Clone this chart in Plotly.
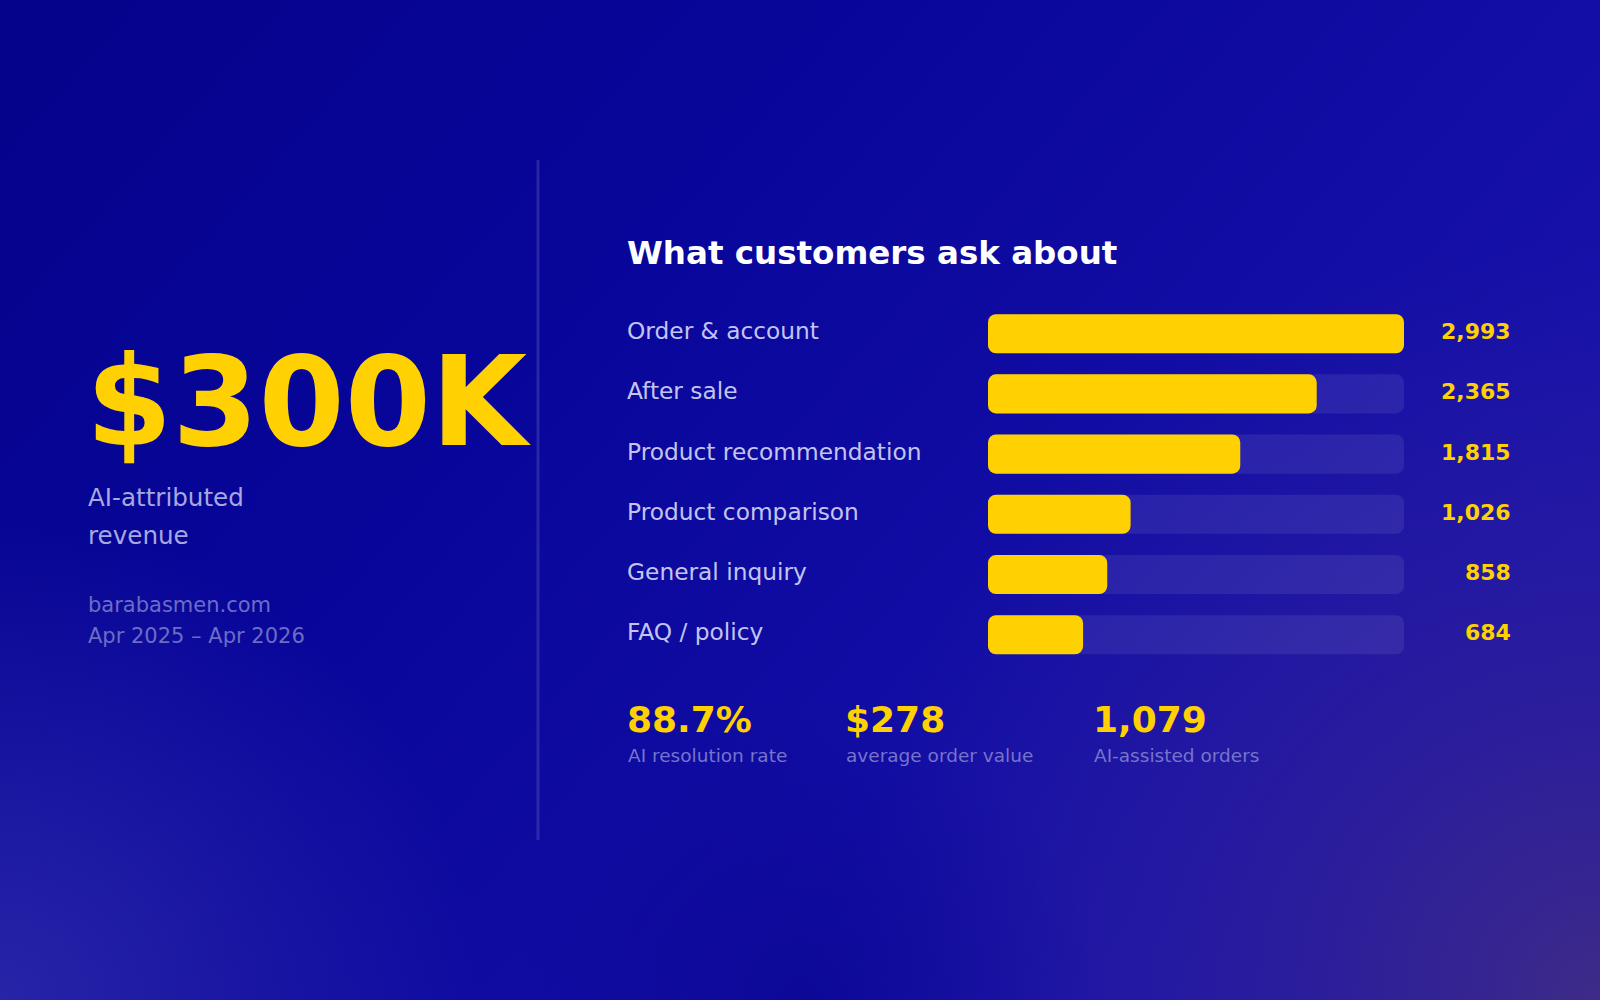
import base64
import plotly.graph_objects as go

# ---------------- data ----------------
categories = ["Order & account", "After sale", "Product recommendation",
              "Product comparison", "General inquiry", "FAQ / policy"]
counts = [2993, 2365, 1815, 1026, 858, 684]

headline_value = "$300K"
headline_label = ["AI-attributed", "revenue"]
source_lines = ["barabasmen.com", "Apr 2025 \u2013 Apr 2026"]
chart_title = "What customers ask about"

stat_values = ["88.7%", "$278", "1,079"]
stat_labels = ["AI resolution rate", "average order value", "AI-assisted orders"]

# ---------------- style ----------------
W, H = 1600, 1000
FONT = "DejaVu Sans"
YELLOW = "#FFD103"
TRACK = "rgba(255,255,255,0.08)"
LABEL_C = "#c3c4ef"
SUB_C = "#a7a8e0"
DIM_C = "#6c6cc6"
STAT_LBL_C = "#7674ca"


def px(x):
    return x / W


def py(y):
    return 1 - y / H


svg = f"""<svg xmlns='http://www.w3.org/2000/svg' width='{W}' height='{H}' viewBox='0 0 {W} {H}'>
<defs>
<linearGradient id='g' x1='0' y1='0' x2='1' y2='0.55'>
<stop offset='0' stop-color='#05038a'/>
<stop offset='0.4' stop-color='#08069a'/>
<stop offset='1' stop-color='#1a13ad'/>
</linearGradient>
<radialGradient id='bl' gradientUnits='userSpaceOnUse' cx='0' cy='1000' r='480'>
<stop offset='0' stop-color='#2824a8' stop-opacity='1'/>
<stop offset='1' stop-color='#2824a8' stop-opacity='0'/>
</radialGradient>
<radialGradient id='br' gradientUnits='userSpaceOnUse' cx='1600' cy='1000' r='760'>
<stop offset='0' stop-color='#3e2b88' stop-opacity='1'/>
<stop offset='0.55' stop-color='#2e1f98' stop-opacity='0.55'/>
<stop offset='1' stop-color='#2e1f98' stop-opacity='0'/>
</radialGradient>
<radialGradient id='bm' gradientUnits='userSpaceOnUse' cx='800' cy='1000' r='300'>
<stop offset='0' stop-color='#0a0690' stop-opacity='0.7'/>
<stop offset='1' stop-color='#0a0690' stop-opacity='0'/>
</radialGradient>
</defs>
<rect width='{W}' height='{H}' fill='url(#g)'/>
<rect width='{W}' height='{H}' fill='url(#bl)'/>
<rect width='{W}' height='{H}' fill='url(#br)'/>
<rect width='{W}' height='{H}' fill='url(#bm)'/>
</svg>"""
bg_uri = "data:image/svg+xml;base64," + base64.b64encode(svg.encode()).decode()

fig = go.Figure()

# An explicit base makes Plotly round all four corners of each bar.
vmax = max(counts)
zero_base = [0] * len(categories)
fig.add_trace(go.Bar(x=[vmax] * len(categories), base=zero_base, y=categories,
                     orientation="h", marker=dict(color=TRACK, line=dict(width=0)),
                     hoverinfo="skip", showlegend=False))
fig.add_trace(go.Bar(x=counts, base=zero_base, y=categories,
                     orientation="h", marker=dict(color=YELLOW, line=dict(width=0)),
                     hoverinfo="skip", showlegend=False))

annotations = []
# category labels and value labels
for cat, v in zip(categories, counts):
    annotations.append(dict(x=px(625), y=cat, xref="paper", yref="y", text=cat,
                            xanchor="left", yanchor="middle", showarrow=False, yshift=3,
                            font=dict(family=FONT, size=23.3, color=LABEL_C)))
    annotations.append(dict(x=px(1513), y=cat, xref="paper", yref="y", text=f"{v:,}",
                            xanchor="right", yanchor="middle", showarrow=False, yshift=2,
                            font=dict(family=FONT, size=22, color=YELLOW, weight="bold")))

# title
annotations.append(dict(x=px(625), y=py(253), xref="paper", yref="paper", text=chart_title,
                        xanchor="left", yanchor="middle", showarrow=False,
                        font=dict(family=FONT, size=32.5, color="white", weight="bold")))
# headline
annotations.append(dict(x=px(84), y=py(402), xref="paper", yref="paper", text=headline_value,
                        xanchor="left", yanchor="middle", showarrow=False,
                        font=dict(family=FONT, size=124, color=YELLOW, weight="bold")))
for txt, yy in zip(headline_label, [497, 535]):
    annotations.append(dict(x=px(86), y=py(yy), xref="paper", yref="paper", text=txt,
                            xanchor="left", yanchor="middle", showarrow=False,
                            font=dict(family=FONT, size=24.6, color=SUB_C)))
for txt, yy in zip(source_lines, [605, 636]):
    annotations.append(dict(x=px(86), y=py(yy), xref="paper", yref="paper", text=txt,
                            xanchor="left", yanchor="middle", showarrow=False,
                            font=dict(family=FONT, size=21, color=DIM_C)))
# stats
stat_x = [627, 845, 1093]
for sx, sv, sl in zip(stat_x, stat_values, stat_labels):
    annotations.append(dict(x=px(sx - 2), y=py(719), xref="paper", yref="paper", text=sv,
                            xanchor="left", yanchor="middle", showarrow=False,
                            font=dict(family=FONT, size=36, color=YELLOW, weight="bold")))
    annotations.append(dict(x=px(sx - 1), y=py(755), xref="paper", yref="paper", text=sl,
                            xanchor="left", yanchor="middle", showarrow=False,
                            font=dict(family=FONT, size=18.5, color=STAT_LBL_C)))

fig.update_layout(
    width=W, height=H,
    margin=dict(l=0, r=0, t=0, b=0),
    paper_bgcolor="#07058f",
    plot_bgcolor="rgba(0,0,0,0)",
    barmode="overlay",
    bargap=0.35,
    barcornerradius=8,
    showlegend=False,
    xaxis=dict(domain=[px(988), px(1404)], range=[0, vmax], visible=False,
               fixedrange=True),
    yaxis=dict(domain=[py(664.8), py(303.6)], categoryorder="array",
               categoryarray=categories, autorange="reversed", visible=False,
               fixedrange=True),
    annotations=annotations,
    shapes=[dict(type="line", xref="paper", yref="paper", x0=px(538), x1=px(538),
                 y0=py(160), y1=py(840), line=dict(color="rgba(255,255,255,0.13)", width=3))],
    images=[dict(source=bg_uri, xref="paper", yref="paper", x=0, y=1, sizex=1, sizey=1,
                 xanchor="left", yanchor="top", sizing="stretch", layer="below")],
)

fig.write_html(
    "out.html",
    config={"displayModeBar": False},
    post_script="document.body.style.margin='0';document.body.style.overflow='hidden';"
                "document.body.style.background='#07058f';",
)
